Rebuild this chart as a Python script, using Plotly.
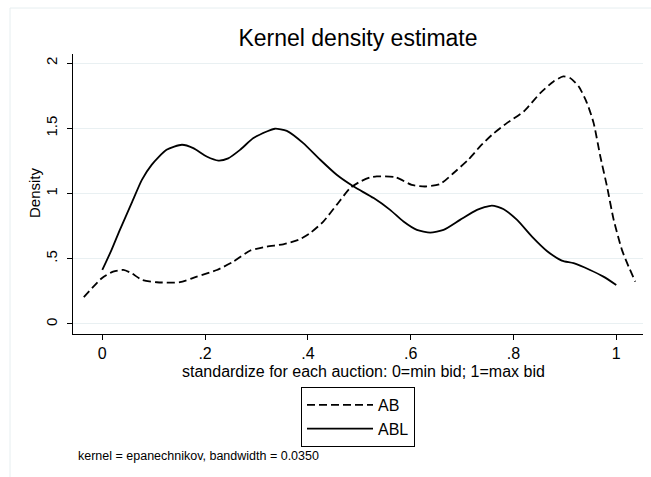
import plotly.graph_objects as go

# AB (dashed) kernel density
ab_x = [-0.036, -0.001, 0.021, 0.041, 0.057, 0.077, 0.106, 0.151, 0.184, 0.223, 0.255,
        0.288, 0.32, 0.352, 0.382, 0.404, 0.43, 0.456, 0.482, 0.502, 0.521, 0.534, 0.57,
        0.602, 0.628, 0.657, 0.683, 0.712, 0.735, 0.758, 0.787, 0.82, 0.852, 0.878, 0.897,
        0.91, 0.927, 0.943, 0.956, 0.969, 0.982, 0.995, 1.011, 1.024, 1.037]
ab_y = [0.205, 0.351, 0.401, 0.414, 0.389, 0.338, 0.32, 0.32, 0.363, 0.414, 0.478,
        0.563, 0.593, 0.611, 0.645, 0.696, 0.785, 0.913, 1.041, 1.092, 1.123, 1.131, 1.126,
        1.067, 1.054, 1.072, 1.156, 1.259, 1.361, 1.45, 1.54, 1.629, 1.77, 1.86, 1.898,
        1.886, 1.821, 1.694, 1.54, 1.284, 1.054, 0.798, 0.568, 0.44, 0.325]

# ABL (solid) kernel density
abl_x = [0.0, 0.018, 0.034, 0.057, 0.077, 0.096, 0.125, 0.155, 0.177, 0.203, 0.226,
         0.245, 0.268, 0.294, 0.32, 0.336, 0.359, 0.391, 0.424, 0.456, 0.489, 0.528,
         0.56, 0.586, 0.612, 0.638, 0.664, 0.696, 0.729, 0.758, 0.781, 0.807, 0.836,
         0.865, 0.894, 0.917, 0.949, 0.975, 1.0]
abl_y = [0.414, 0.568, 0.72, 0.926, 1.105, 1.22, 1.335, 1.374, 1.348, 1.284, 1.253,
         1.27, 1.335, 1.425, 1.476, 1.497, 1.481, 1.387, 1.259, 1.144, 1.054, 0.965,
         0.875, 0.785, 0.721, 0.701, 0.721, 0.798, 0.875, 0.908, 0.88, 0.798, 0.67,
         0.56, 0.486, 0.466, 0.414, 0.363, 0.299]

x_tickvals = [0, 0.2, 0.4, 0.6, 0.8, 1]
x_ticktext = ["0", ".2", ".4", ".6", ".8", "1"]
y_tickvals = [0, 0.5, 1, 1.5, 2]
y_ticktext = ["0", ".5", "1", "1.5", "2"]

FONT = "Arial, Liberation Sans, sans-serif"

fig = go.Figure()
fig.add_trace(go.Scatter(x=ab_x, y=ab_y, mode="lines", name="AB",
                         line=dict(color="black", width=1.8, dash="8px,4px", shape="spline", smoothing=0.6)))
fig.add_trace(go.Scatter(x=abl_x, y=abl_y, mode="lines", name="ABL",
                         line=dict(color="black", width=1.8, shape="spline", smoothing=0.6)))

fig.update_layout(
    width=651, height=477,
    margin=dict(l=73, r=8, t=54, b=143),
    paper_bgcolor="white", plot_bgcolor="white",
    font=dict(family=FONT, color="black", size=15),
    title=dict(text="Kernel density estimate", x=0.5, xref="paper", xanchor="center",
               y=1 - 38 / 477, yanchor="middle", font=dict(size=23, family=FONT, color="black")),
    xaxis=dict(range=[-0.057, 1.052], tickvals=x_tickvals, ticktext=x_ticktext,
               showgrid=False, zeroline=False, showline=True, linecolor="black", linewidth=1,
               ticks="outside", ticklen=5, tickcolor="black", tickfont=dict(size=16)),
    yaxis=dict(range=[-0.077, 2.07], tickvals=y_tickvals, ticktext=y_ticktext,
               showgrid=True, gridcolor="#e9f0f2", gridwidth=1, zeroline=False,
               showline=True, linecolor="black", linewidth=1,
               ticks="outside", ticklen=5, tickcolor="black", tickangle=-90,
               tickfont=dict(size=15), ticklabelstandoff=4),
    showlegend=True,
    legend=dict(x=(301 - 73) / 570, y=(334 - 387) / 280, xanchor="left", yanchor="top",
                bordercolor="black", borderwidth=1, bgcolor="white",
                font=dict(size=16, family=FONT), itemwidth=66, tracegroupgap=0),
    annotations=[
        dict(text="standardize for each auction: 0=min bid; 1=max bid", xref="paper", yref="paper",
             x=(363 - 73) / 570, y=(334 - 371) / 280, xanchor="center", yanchor="middle",
             showarrow=False, font=dict(size=16)),
        dict(text="Density", xref="paper", yref="paper", textangle=-90,
             x=(34 - 73) / 570, y=(334 - 193) / 280, xanchor="center", yanchor="middle",
             showarrow=False, font=dict(size=15)),
        dict(text="kernel = epanechnikov, bandwidth = 0.0350", xref="paper", yref="paper",
             x=(76 - 73) / 570, y=(334 - 456) / 280, xanchor="left", yanchor="middle",
             showarrow=False, font=dict(size=12.5)),
    ],
    shapes=[
        dict(type="line", xref="paper", yref="paper", x0=(10 - 73) / 570, x1=(10 - 73) / 570,
             y0=(334 - 8) / 280, y1=(334 - 480) / 280, line=dict(color="#e6eef0", width=1)),
        dict(type="line", xref="paper", yref="paper", x0=(10 - 73) / 570, x1=(655 - 73) / 570,
             y0=(334 - 8) / 280, y1=(334 - 8) / 280, line=dict(color="#e6eef0", width=1)),
    ],
)

fig.write_html("out.html", config={"displayModeBar": False},
               post_script="document.body.style.margin='0';document.body.style.overflow='hidden';")
